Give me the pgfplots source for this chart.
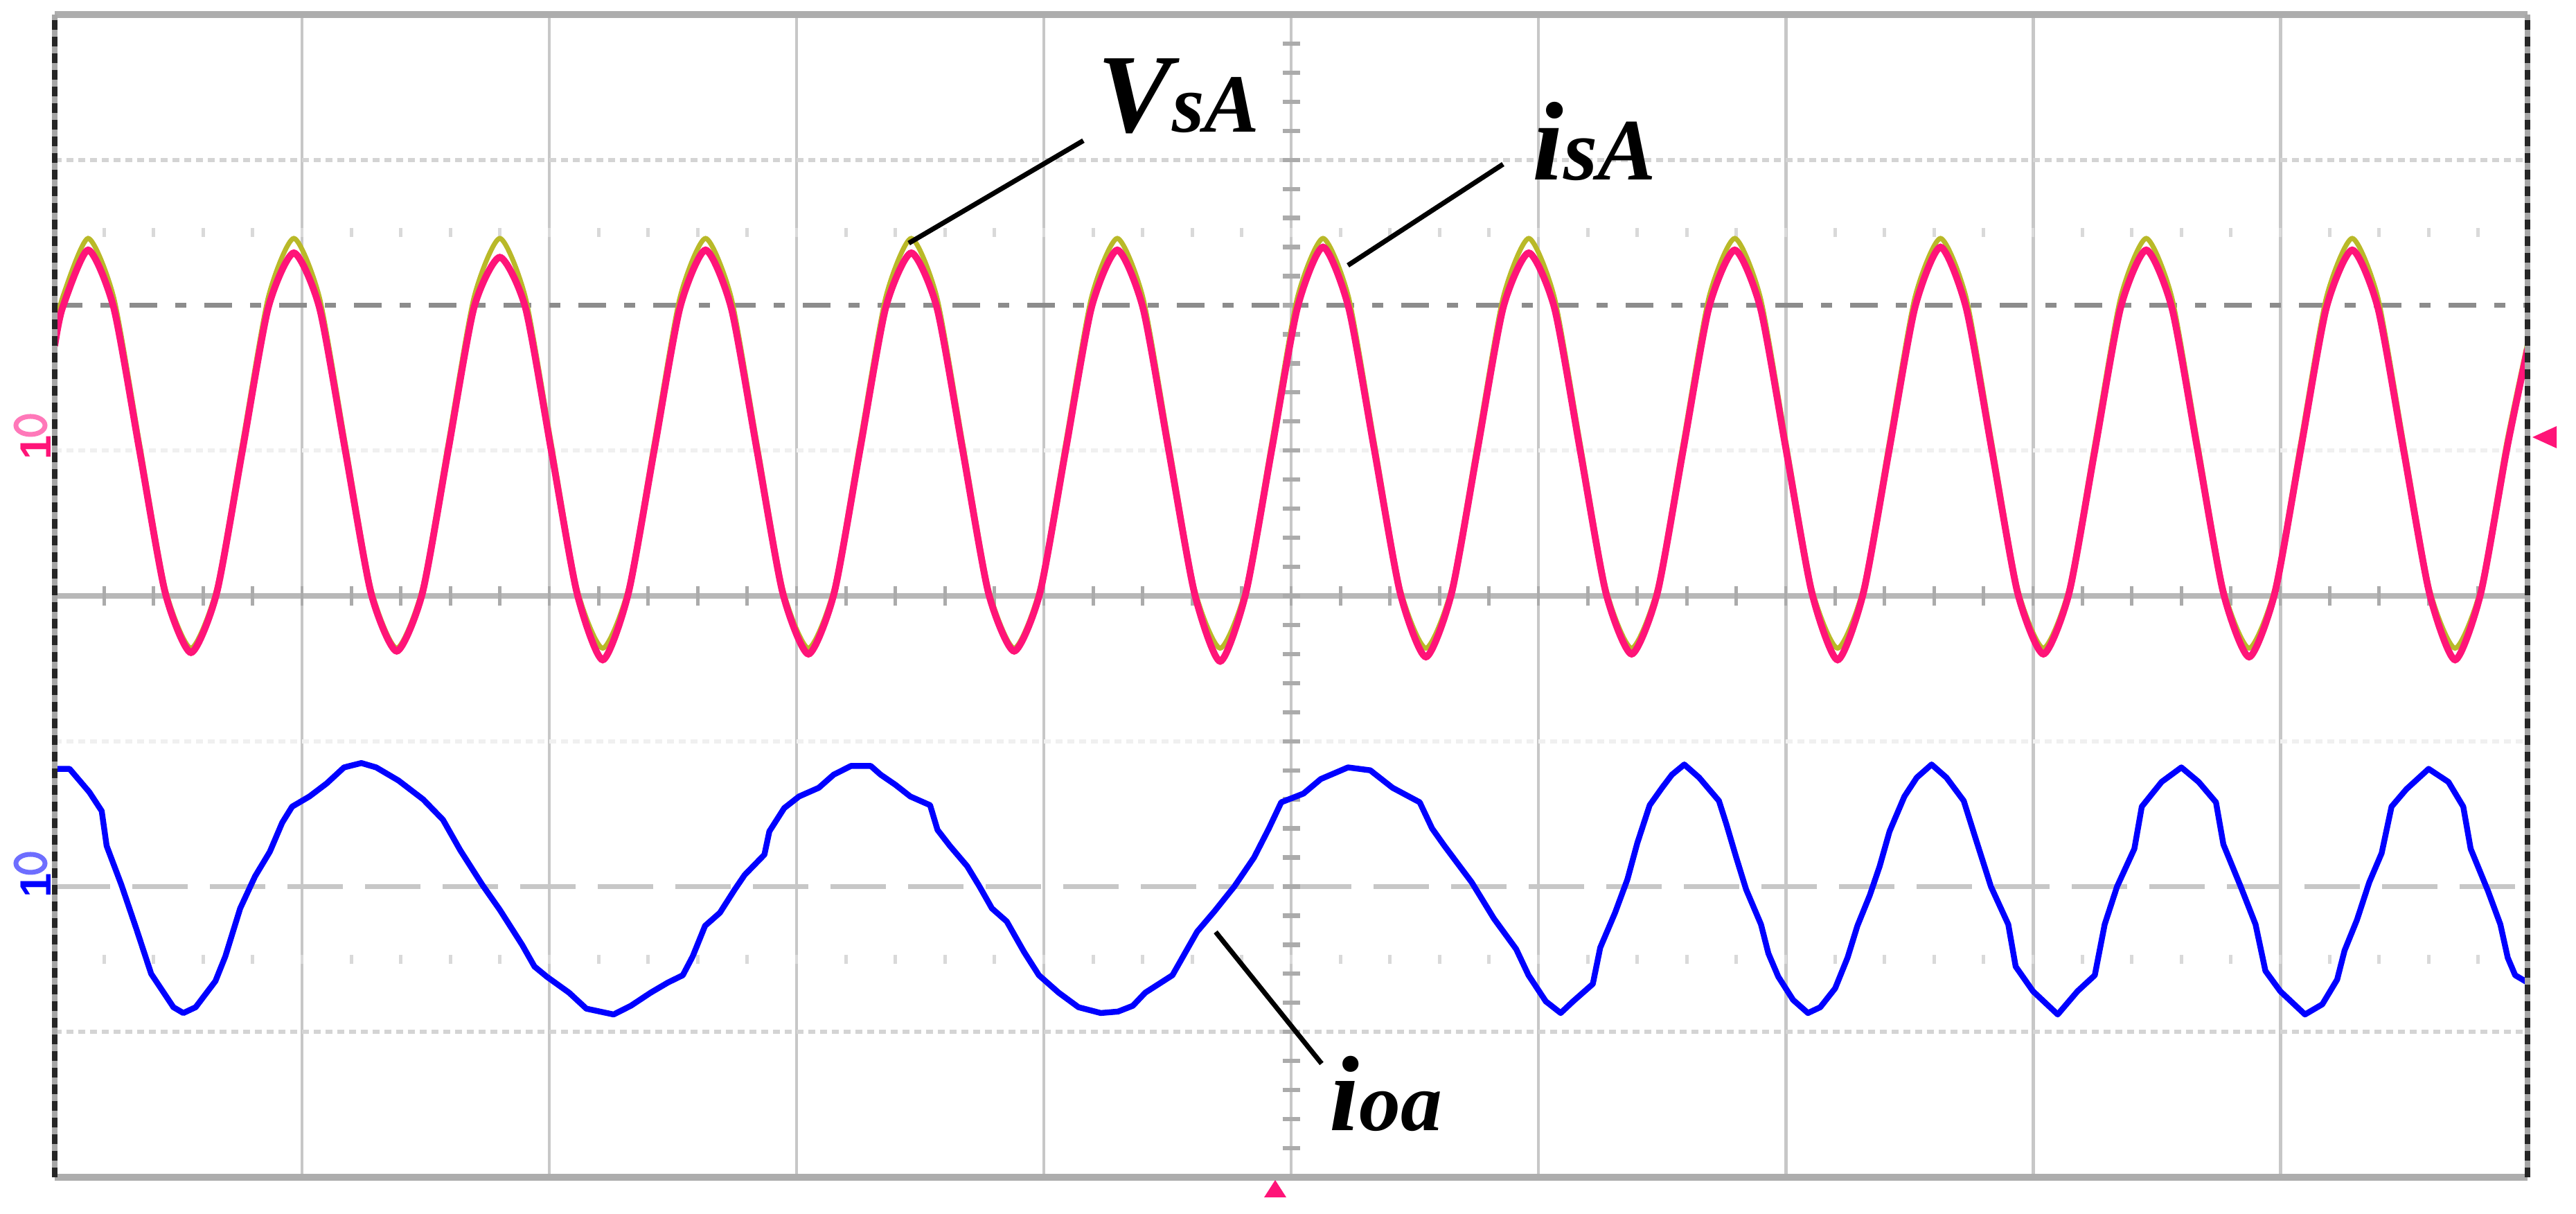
\documentclass[border=0pt]{standalone}
\usepackage{fontspec}
\setmainfont{Liberation Serif}
\setsansfont{Liberation Sans}
\usepackage{pgfplots}
\usepackage{pgfplotstable}
\pgfplotsset{compat=1.18}
\definecolor{pinkc}{RGB}{255,20,120}
\definecolor{pinkl}{RGB}{255,120,185}
\definecolor{olivec}{RGB}{185,185,40}
\definecolor{bluec}{RGB}{0,0,255}
\definecolor{bluel}{RGB}{110,110,255}

\pgfplotstableread{
x i v
0.000 1.72 1.79
0.031 1.98 2.05
0.135 2.38 2.46
0.239 1.98 2.05
0.343 1.00 1.05
0.447 0.02 0.05
0.551 -0.39 -0.36
0.655 0.02 0.05
0.759 1.00 1.05
0.863 1.98 2.05
0.967 2.36 2.46
1.071 1.98 2.05
1.175 1.00 1.05
1.279 0.02 0.05
1.383 -0.38 -0.36
1.487 0.02 0.05
1.591 1.00 1.05
1.695 1.98 2.05
1.800 2.33 2.46
1.904 1.98 2.05
2.008 1.00 1.05
2.112 0.02 0.05
2.216 -0.44 -0.36
2.320 0.02 0.05
2.424 1.00 1.05
2.528 1.98 2.05
2.632 2.38 2.46
2.736 1.98 2.05
2.840 1.00 1.05
2.944 0.02 0.05
3.048 -0.40 -0.36
3.152 0.02 0.05
3.256 1.00 1.05
3.360 1.98 2.05
3.464 2.36 2.46
3.568 1.98 2.05
3.672 1.00 1.05
3.776 0.02 0.05
3.880 -0.38 -0.36
3.984 0.02 0.05
4.088 1.00 1.05
4.192 1.98 2.05
4.297 2.38 2.46
4.401 1.98 2.05
4.505 1.00 1.05
4.609 0.02 0.05
4.713 -0.45 -0.36
4.817 0.02 0.05
4.921 1.00 1.05
5.025 1.98 2.05
5.129 2.40 2.46
5.233 1.98 2.05
5.337 1.00 1.05
5.441 0.02 0.05
5.545 -0.42 -0.36
5.649 0.02 0.05
5.753 1.00 1.05
5.857 1.98 2.05
5.961 2.36 2.46
6.065 1.98 2.05
6.169 1.00 1.05
6.273 0.02 0.05
6.377 -0.40 -0.36
6.481 0.02 0.05
6.585 1.00 1.05
6.689 1.98 2.05
6.794 2.38 2.46
6.898 1.98 2.05
7.002 1.00 1.05
7.106 0.02 0.05
7.210 -0.44 -0.36
7.314 0.02 0.05
7.418 1.00 1.05
7.522 1.98 2.05
7.626 2.40 2.46
7.730 1.98 2.05
7.834 1.00 1.05
7.938 0.02 0.05
8.042 -0.40 -0.36
8.146 0.02 0.05
8.250 1.00 1.05
8.354 1.98 2.05
8.458 2.38 2.46
8.562 1.98 2.05
8.666 1.00 1.05
8.770 0.02 0.05
8.874 -0.42 -0.36
8.978 0.02 0.05
9.082 1.00 1.05
9.186 1.98 2.05
9.291 2.38 2.46
9.395 1.98 2.05
9.499 1.00 1.05
9.603 0.02 0.05
9.707 -0.44 -0.36
9.811 0.02 0.05
9.915 1.00 1.05
10.000 1.70 1.74
}\sinetab

\pgfplotstableread{
x y
0.00 -1.19
0.06 -1.19
0.14 -1.35
0.19 -1.48
0.21 -1.72
0.27 -1.99
0.33 -2.29
0.39 -2.60
0.48 -2.83
0.52 -2.87
0.57 -2.83
0.65 -2.65
0.69 -2.48
0.75 -2.15
0.81 -1.93
0.87 -1.76
0.92 -1.56
0.96 -1.45
1.03 -1.38
1.10 -1.29
1.17 -1.18
1.24 -1.15
1.30 -1.18
1.39 -1.27
1.49 -1.40
1.57 -1.54
1.64 -1.75
1.73 -1.99
1.80 -2.16
1.89 -2.40
1.94 -2.55
1.99 -2.62
2.08 -2.73
2.15 -2.84
2.26 -2.88
2.33 -2.82
2.41 -2.73
2.48 -2.66
2.54 -2.61
2.58 -2.48
2.63 -2.27
2.69 -2.18
2.75 -2.02
2.79 -1.92
2.87 -1.78
2.89 -1.62
2.95 -1.46
3.01 -1.38
3.09 -1.32
3.15 -1.23
3.22 -1.17
3.30 -1.17
3.34 -1.23
3.40 -1.30
3.46 -1.38
3.54 -1.44
3.57 -1.61
3.62 -1.72
3.69 -1.86
3.74 -2.00
3.79 -2.15
3.85 -2.24
3.92 -2.45
3.98 -2.61
4.06 -2.73
4.14 -2.83
4.23 -2.87
4.30 -2.86
4.36 -2.82
4.41 -2.73
4.52 -2.61
4.58 -2.43
4.62 -2.31
4.69 -2.17
4.77 -2.00
4.85 -1.80
4.91 -1.60
4.96 -1.42
5.05 -1.36
5.12 -1.26
5.23 -1.18
5.32 -1.20
5.41 -1.32
5.52 -1.42
5.57 -1.60
5.62 -1.72
5.73 -1.97
5.82 -2.22
5.91 -2.43
5.96 -2.61
6.03 -2.79
6.09 -2.87
6.14 -2.79
6.22 -2.67
6.25 -2.42
6.31 -2.18
6.36 -1.95
6.40 -1.70
6.45 -1.44
6.50 -1.32
6.54 -1.23
6.59 -1.16
6.65 -1.25
6.73 -1.41
6.76 -1.57
6.80 -1.80
6.84 -2.02
6.90 -2.26
6.93 -2.46
6.97 -2.62
7.03 -2.78
7.09 -2.87
7.14 -2.83
7.20 -2.70
7.25 -2.49
7.29 -2.27
7.34 -2.06
7.38 -1.86
7.42 -1.62
7.48 -1.38
7.53 -1.25
7.59 -1.16
7.65 -1.25
7.72 -1.41
7.77 -1.68
7.83 -2.00
7.90 -2.26
7.93 -2.55
8.00 -2.72
8.10 -2.88
8.18 -2.72
8.25 -2.61
8.29 -2.26
8.34 -2.00
8.41 -1.74
8.44 -1.45
8.52 -1.28
8.60 -1.18
8.67 -1.28
8.74 -1.42
8.77 -1.71
8.84 -2.00
8.90 -2.26
8.94 -2.58
9.00 -2.72
9.10 -2.88
9.17 -2.81
9.23 -2.64
9.26 -2.44
9.31 -2.23
9.36 -1.97
9.41 -1.77
9.45 -1.45
9.51 -1.33
9.60 -1.19
9.68 -1.28
9.74 -1.45
9.77 -1.74
9.84 -2.03
9.89 -2.26
9.92 -2.49
9.95 -2.61
10.00 -2.66
}\bluetab

\begin{document}
\begin{tikzpicture}
\useasboundingbox (0,0) rectangle (185.95mm,87.6mm);
% ---------- oscilloscope graticule (behind the traces) ----------
\begin{scope}[shift={(3.95mm,44.6mm)}, x=17.85mm, y=10.4875mm]
  \foreach \i in {1,...,9} \draw[black!22, line width=0.7pt] (\i,-4) -- (\i,4);
  \draw[black!6, line width=0.8pt, dash pattern=on 0.5mm off 0.35mm] (0,1) -- (10,1);
  \draw[black!6, line width=0.8pt, dash pattern=on 0.5mm off 0.35mm] (0,-1) -- (10,-1);
  \draw[black!17, line width=0.8pt, dash pattern=on 0.5mm off 0.35mm] (0,3) -- (10,3);
  \draw[black!17, line width=0.8pt, dash pattern=on 0.5mm off 0.35mm] (0,-3) -- (10,-3);
  \draw[black!45, line width=1.1pt, dash pattern=on 2mm off 1.3mm on 0.8mm off 1.3mm] (0,2) -- (10,2);
  \draw[black!22, line width=1.0pt, dash pattern=on 4mm off 1.6mm] (0,-2) -- (10,-2);
  \draw[black!28, line width=1.1pt] (0,0) -- (10,0);
  \foreach \t in {0.2,0.4,...,9.9} {
    \draw[black!33, line width=0.7pt] (\t,-0.065) -- (\t,0.065);
    \draw[black!15, line width=0.7pt] (\t,2.47) -- (\t,2.53);
    \draw[black!15, line width=0.7pt] (\t,-2.53) -- (\t,-2.47);
  }
  \foreach \t in {-3.8,-3.6,...,3.9} \draw[black!33, line width=0.9pt] (4.965,\t) -- (5.035,\t);
\end{scope}
% ---------- traces ----------
\begin{axis}[at={(3.95mm,2.65mm)}, anchor=south west,
  width=178.5mm, height=83.9mm, scale only axis,
  xmin=0, xmax=10, ymin=-4, ymax=4, hide axis]
  \addplot[olivec, line width=1.0pt, smooth, tension=0.4] table[x=x, y=v] {\sinetab};
  \addplot[pinkc, line width=1.4pt, smooth, tension=0.4] table[x=x, y=i] {\sinetab};
  \addplot[bluec, line width=1.2pt, line join=round] table[x=x, y=y] {\bluetab};
\end{axis}
% ---------- frame ----------
\begin{scope}[shift={(3.95mm,44.6mm)}, x=17.85mm, y=10.4875mm]
  \draw[black!32, line width=1.3pt] (0,4) -- (10,4);
  \draw[black!32, line width=1.3pt] (0,-4) -- (10,-4);
  \draw[black!35, line width=1.1pt] (0,-4) -- (0,4);
  \draw[black!85, line width=1.1pt, dash pattern=on 0.7mm off 0.5mm] (0,-4) -- (0,4);
  \draw[black!35, line width=1.1pt] (10,-4) -- (10,4);
  \draw[black!85, line width=1.1pt, dash pattern=on 0.7mm off 0.5mm] (10,-4) -- (10,4);
\end{scope}
% ---------- channel and trigger markers ----------
\node[rotate=90, text=pinkc, font=\sffamily\bfseries\fontsize{9}{9}\selectfont, inner sep=0, anchor=center] at (2.6mm,55.3mm) {1};
\draw[pinkl, line width=0.35mm] (2.2mm,56.9mm) ellipse (1.05mm and 0.65mm);
\node[rotate=90, text=bluec, font=\sffamily\bfseries\fontsize{9}{9}\selectfont, inner sep=0, anchor=center] at (2.6mm,23.7mm) {1};
\draw[bluel, line width=0.35mm] (2.2mm,25.3mm) ellipse (1.05mm and 0.65mm);
\fill[pinkc] (91.25mm,1.2mm) -- (92.85mm,1.2mm) -- (92.05mm,2.45mm) -- cycle;
\fill[pinkc] (182.8mm,56.05mm) -- (184.55mm,56.85mm) -- (184.55mm,55.25mm) -- cycle;
% ---------- annotations ----------
\draw[black, line width=1.0pt] (65.6mm,70.05mm) -- (78.2mm,77.45mm);
\node[anchor=base west, inner sep=0] at (79.15mm,78.05mm)
  {\bfseries\itshape\fontsize{23}{23}\selectfont V\fontsize{17}{17}\selectfont sA};
\draw[black, line width=1.0pt] (97.3mm,68.45mm) -- (108.5mm,75.75mm);
\node[anchor=base west, inner sep=0] at (110.55mm,74.6mm)
  {\bfseries\itshape\fontsize{23}{23}\selectfont i\fontsize{18}{18}\selectfont sA};
\draw[black, line width=1.0pt] (87.75mm,20.35mm) -- (95.4mm,10.85mm);
\node[anchor=base west, inner sep=0] at (95.9mm,6.0mm)
  {\bfseries\itshape\fontsize{22}{22}\selectfont i\fontsize{17}{17}\selectfont oa};
\end{tikzpicture}
\end{document}
